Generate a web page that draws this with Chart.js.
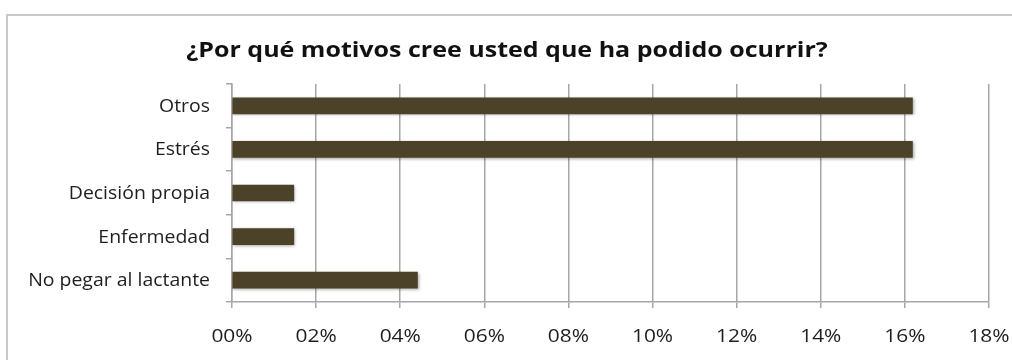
<!DOCTYPE html>
<html lang="es">
<head>
<meta charset="utf-8">
<title>¿Por qué motivos cree usted que ha podido ocurrir?</title>
<script src="https://cdn.jsdelivr.net/npm/chart.js@4/dist/chart.umd.min.js"></script>
<style>
  html, body { margin: 0; padding: 0; background: #ffffff; }
  #wrap { position: relative; width: 1012px; height: 360px; overflow: hidden; }
  #frame {
    position: absolute; left: 6px; top: 14px; width: 1100px; height: 400px;
    border-top: 2px solid #c9c9c9; border-left: 2px solid #c9c9c9;
  }
  #chart { position: absolute; left: 0; top: 0; }
</style>
</head>
<body>
<div id="wrap">
  <div id="frame"></div>
  <canvas id="chart" width="1012" height="360"></canvas>
</div>
<script>
// Motivos y porcentaje de respuestas (n = 68)
const categories = ['Otros', 'Estrés', 'Decisión propia', 'Enfermedad', 'No pegar al lactante'];
const percentages = [16.18, 16.18, 1.47, 1.47, 4.41];
const tickValues = [0, 2, 4, 6, 8, 10, 12, 14, 16, 18];

const titleText = '¿Por qué motivos cree usted que ha podido ocurrir?';
const gridGray = '#a6a6a6';
const textDark = '#1e1e1e';
const fontFamily = '"Open Sans", "Liberation Sans", sans-serif';

const formatTick = v => String(v).padStart(2, '0') + '%';

// soft drop shadow under the bars
const barShadow = {
  id: 'barShadow',
  beforeDatasetsDraw(chart) {
    const ctx = chart.ctx;
    ctx.save();
    ctx.shadowColor = 'rgba(0,0,0,0.35)';
    ctx.shadowBlur = 3;
    ctx.shadowOffsetX = 1;
    ctx.shadowOffsetY = 1;
  },
  afterDatasetsDraw(chart) {
    chart.ctx.restore();
  }
};

// draws a line of text slightly widened horizontally
function wideText(ctx, text, x, y, align, font, color, stretch) {
  ctx.save();
  ctx.font = font;
  ctx.fillStyle = color;
  ctx.textBaseline = 'alphabetic';
  const w = ctx.measureText(text).width * stretch;
  let left = x;
  if (align === 'center') left = x - w / 2;
  else if (align === 'right') left = x - w;
  ctx.translate(left, y);
  ctx.scale(stretch, 1);
  ctx.textAlign = 'left';
  ctx.fillText(text, 0, 0);
  ctx.restore();
}

// title, category labels and percentage labels
const textLayer = {
  id: 'textLayer',
  afterDraw(chart) {
    const ctx = chart.ctx;
    const xs = chart.scales.x;
    const ys = chart.scales.y;

    wideText(ctx, titleText, chart.width / 2 + 1, 57,
      'center', 'bold 20.5px ' + fontFamily, '#111111', 1.22);

    const labelSize = 18;
    categories.forEach((name, i) => {
      const y = ys.getPixelForTick(i);
      wideText(ctx, name, ys.right - 22, y + labelSize * 0.33,
        'right', labelSize + 'px ' + fontFamily, textDark, 1.08);
    });

    const tickSize = 19;
    tickValues.forEach(v => {
      const x = xs.getPixelForValue(v);
      wideText(ctx, formatTick(v), x, 342,
        'center', tickSize + 'px ' + fontFamily, textDark, 1.1);
    });
  }
};

new Chart(document.getElementById('chart'), {
  type: 'bar',
  data: {
    labels: categories,
    datasets: [{
      data: percentages,
      backgroundColor: '#4b4229',
      borderWidth: 0,
      barThickness: 16
    }]
  },
  plugins: [barShadow, textLayer],
  options: {
    indexAxis: 'y',
    responsive: false,
    animation: false,
    layout: { padding: { left: 0, right: 23, top: 84, bottom: 0 } },
    plugins: {
      legend: { display: false },
      tooltip: { enabled: false },
      title: { display: false }
    },
    scales: {
      x: {
        min: 0,
        max: 18,
        afterBuildTicks(scale) {
          scale.ticks = tickValues.map(v => ({ value: v }));
        },
        afterFit(scale) { scale.height = 58; },
        ticks: { display: false },
        grid: {
          color: gridGray,
          lineWidth: 1.5,
          drawTicks: true,
          tickLength: 6
        },
        border: { color: gridGray, width: 1.5 }
      },
      y: {
        afterFit(scale) { scale.width = 232; },
        ticks: { display: false },
        grid: {
          offset: true,
          drawOnChartArea: false,
          drawTicks: true,
          tickLength: 6,
          color: gridGray,
          lineWidth: 1.5
        },
        border: { color: gridGray, width: 1.5 }
      }
    }
  }
});
</script>
</body>
</html>
